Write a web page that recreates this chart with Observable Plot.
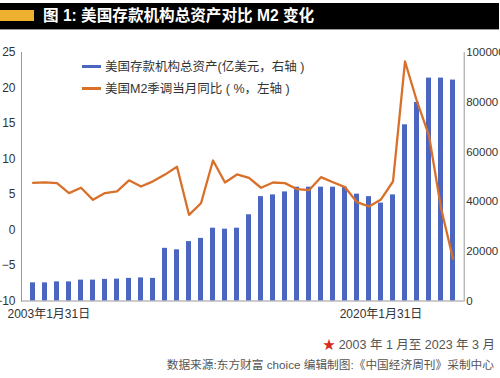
<!DOCTYPE html>
<html><head><meta charset="utf-8">
<script src="https://cdn.jsdelivr.net/npm/d3@7"></script>
<script src="https://cdn.jsdelivr.net/npm/@observablehq/plot@0.6"></script>
<style>
body{margin:0;background:#fff;}
#wrap{position:relative;width:500px;height:378px;overflow:hidden;font-family:"Liberation Sans",Arial,"Noto Sans CJK SC",sans-serif;color:#333;}
#titlebar{position:absolute;left:0;top:3px;width:499px;height:26px;background:#000;border-bottom:1px solid #999;}
#gold{position:absolute;left:0;top:7px;width:34px;height:11px;background:#eeb12f;}
#title{position:absolute;left:43px;top:0;height:26px;line-height:26px;color:#fff;font-weight:bold;font-size:15.6px;font-family:"Liberation Sans",Arial,"Noto Sans CJK SC",sans-serif;white-space:nowrap;}
#chart{position:absolute;left:0;top:40px;}
.lg{position:absolute;left:82px;height:18px;line-height:18px;font-size:12.5px;color:#333;white-space:nowrap;}
.sw{display:inline-block;width:19px;height:3px;vertical-align:middle;margin-right:4px;position:relative;top:-1px;}
.ft{position:absolute;right:5px;white-space:nowrap;color:#555;}
</style></head><body>
<div id="wrap">
  <div id="titlebar"><div id="gold"></div><div id="title">图 1: 美国存款机构总资产对比 M2 变化</div></div>
  <div id="chart"></div>
  <div id="legend"></div>
  <div class="ft" id="note" style="top:337px;height:16px;line-height:16px;font-size:12.5px;"><span style="color:#d52b1e">★</span> 2003 年 1 月至 2023 年 3 月</div>
  <div class="ft" id="source" style="top:357px;height:16px;line-height:16px;font-size:11.7px;right:6px;">数据来源:东方财富 choice 编辑制图:《中国经济周刊》采制中心</div>
</div>
<script>
// categories: 36 sampled periods, 2003-01 to 2023-03
const periods = [1,2,3,4,5,6,7,8,9,10,11,12,13,14,15,16,17,18,19,20,21,22,23,24,25,26,27,28,29,30,31,32,33,34,35,36];
// 美国存款机构总资产 (亿美元, right axis)
const assets = [7300,7300,7700,7700,8400,8400,8700,8800,9100,9300,9100,21200,20600,23900,25200,29300,28900,29300,34700,42000,42700,43900,45800,45800,45800,45800,45800,43000,42000,39400,42700,70900,79900,89700,89700,88900];
// 美国M2季调当月同比 (%, left axis)
const m2yoy = [6.65,6.7,6.6,5.2,5.95,4.25,5.2,5.45,7.0,6.13,6.85,7.8,8.9,2.14,3.77,9.79,6.7,7.82,7.33,5.95,6.69,6.6,5.75,5.61,7.44,6.73,6.03,3.92,3.31,4.3,6.83,23.73,18.1,13.3,3.1,-4.06];
const leftTicks = [-10,-5,0,5,10,15,20,25];
const rightTicks = [0,20000,40000,60000,80000,100000];
const xTickPeriods = [1,30];
const xTickLabels = ["2003年1月31日","2020年1月31日"];
const legendItems = [
  {label:"美国存款机构总资产(亿美元，右轴 )", color:"#4a66c0"},
  {label:"美国M2季调当月同比 ( %，左轴 )", color:"#d8702a"}
];

const L0 = -10, L1 = 25, R1 = 100000;
const toLeft = v => L0 + v * (L1 - L0) / R1;
const rows = periods.map((p, i) => ({p, assets: assets[i], m2: m2yoy[i]}));
const font = '"Liberation Sans", Arial, "Noto Sans CJK SC", sans-serif';

const chart = Plot.plot({
  width: 500, height: 290,
  marginTop: 12, marginBottom: 29.5, marginLeft: 21, marginRight: 36.3,
  style: {fontFamily: font, fontSize: "12px", color: "#333", background: "transparent", overflow: "visible"},
  x: {type: "band", domain: periods, paddingInner: 0.6, paddingOuter: 0.3, axis: null},
  y: {domain: [L0, L1], axis: null},
  marks: [
    Plot.barY(rows, {x: "p", y1: L0, y2: d => toLeft(d.assets), fill: "#4a66c0"}),
    Plot.line(rows, {x: "p", y: "m2", stroke: "#d8702a", strokeWidth: 2.3, strokeLinejoin: "round"}),
    Plot.ruleY([L0], {stroke: "#999"}),
    Plot.frame({anchor: "left", stroke: "#999"}),
    Plot.frame({anchor: "right", stroke: "#999"}),
    Plot.axisY(leftTicks, {anchor: "left", tickSize: 0, tickPadding: 6, label: null, fontSize: 12}),
    Plot.axisY(rightTicks.map(toLeft), {anchor: "right", tickSize: 0, tickPadding: 2, label: null, fontSize: 11.5,
      tickFormat: y => String(Math.round((y - L0) * R1 / (L1 - L0)))}),
    Plot.axisX([xTickPeriods[0]], {tickSize: 0, tickPadding: 8, label: null, fontSize: 12, textAnchor: "start", dx: -25.5,
      tickFormat: p => xTickLabels[xTickPeriods.indexOf(p)]}),
    Plot.axisX([xTickPeriods[1]], {tickSize: 0, tickPadding: 8, label: null, fontSize: 12,
      tickFormat: p => xTickLabels[xTickPeriods.indexOf(p)]})
  ]
});
document.getElementById("chart").appendChild(chart);

const lg = document.getElementById("legend");
legendItems.forEach((it, i) => {
  const d = document.createElement("div");
  d.className = "lg";
  d.style.top = (58 + i * 21.5) + "px";
  d.innerHTML = `<span class="sw" style="background:${it.color}"></span>${it.label}`;
  lg.appendChild(d);
});
</script>
</body></html>
